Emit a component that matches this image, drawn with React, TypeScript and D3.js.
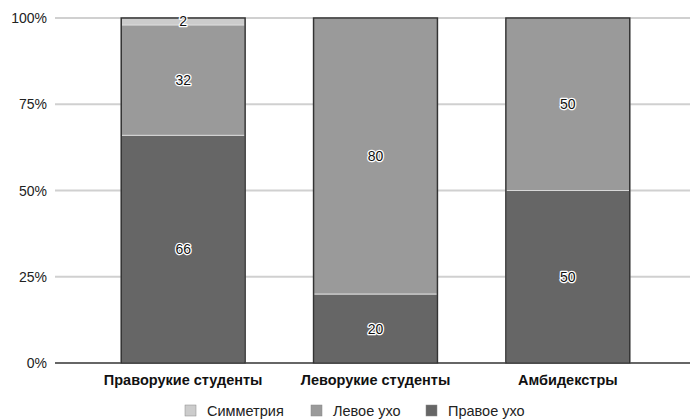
import React from "react";
import * as d3 from "d3";

const categories = ["Праворукие студенты", "Леворукие студенты", "Амбидекстры"];
const seriesNames = ["Правое ухо", "Левое ухо", "Симметрия"];
const rightEar = [66, 20, 50];
const leftEar = [32, 80, 50];
const symmetry = [2, 0, 0];
const yTicks = [0, 25, 50, 75, 100];

const colors = ["#666666", "#9a9a9a", "#cccccc"];
const legendOrder = [2, 1, 0];
const legendX = [185, 311, 426];

const W = 690;
const H = 419;

export default function App() {
  const seriesValues = [rightEar, leftEar, symmetry];
  const rows = categories.map((c, i) => ({
    cat: c,
    v0: rightEar[i],
    v1: leftEar[i],
    v2: symmetry[i],
  }));
  const stack = d3.stack<any>().keys(["v0", "v1", "v2"]).offset(d3.stackOffsetExpand);
  const layers = stack(rows);

  const x = d3.scaleBand<string>().domain(categories).range([87, 664]).paddingInner(0.356).paddingOuter(0.178);
  const y = d3.scaleLinear().domain([0, 1]).range([363, 18]);

  const font = "'Liberation Sans', Arial, sans-serif";

  return (
    <svg width={W} height={H} style={{ position: "absolute", left: 0, top: 0, background: "#fff" }}>
      {yTicks.map((t) => (
        <g key={t}>
          <line x1={55} x2={690} y1={y(t / 100)} y2={y(t / 100)} stroke={t === 0 ? "#333" : "#d0d0d0"} strokeWidth={t === 0 ? 1.5 : 2} />
          <text x={47} y={y(t / 100) + 5} textAnchor="end" fontFamily={font} fontSize={14} fill="#222">
            {t}%
          </text>
        </g>
      ))}
      {layers.map((layer, li) =>
        layer.map((d, i) => {
          const v = seriesValues[li][i];
          if (!v) return null;
          const y0 = y(d[0]);
          const y1 = y(d[1]);
          return (
            <rect
              key={`${li}-${i}`}
              x={x(categories[i])!}
              y={y1}
              width={x.bandwidth()}
              height={y0 - y1}
              fill={colors[li]}
              stroke="#d8d8d8"
              strokeWidth={1}
            />
          );
        })
      )}
      {categories.map((c) => {
        const top = y(1);
        return (
          <rect key={c} x={x(c)!} y={top} width={x.bandwidth()} height={y(0) - top} fill="none" stroke="#333" strokeWidth={1.5} />
        );
      })}
      {layers.map((layer, li) =>
        layer.map((d, i) => {
          const v = seriesValues[li][i];
          if (!v) return null;
          const cy = (y(d[0]) + y(d[1])) / 2;
          return (
            <text
              key={`l${li}-${i}`}
              x={x(categories[i])! + x.bandwidth() / 2}
              y={cy + 5}
              textAnchor="middle"
              fontFamily={font}
              fontSize={14}
              fill="#111"
              stroke="#fff"
              strokeWidth={2.5}
              paintOrder="stroke"
              strokeLinejoin="round"
            >
              {v}
            </text>
          );
        })
      )}
      {categories.map((c) => (
        <text key={c} x={x(c)! + x.bandwidth() / 2} y={385} textAnchor="middle" fontFamily={font} fontSize={14.5} fontWeight="bold" fill="#111">
          {c}
        </text>
      ))}
      {legendOrder.map((si, k) => (
        <g key={si} transform={`translate(${legendX[k]},405)`}>
          <rect x={0} y={0} width={11} height={11} fill={colors[si]} stroke="#888" strokeWidth={0.5} />
          <text x={22} y={10.5} fontFamily={font} fontSize={14.5} fill="#222">
            {seriesNames[si]}
          </text>
        </g>
      ))}
    </svg>
  );
}
